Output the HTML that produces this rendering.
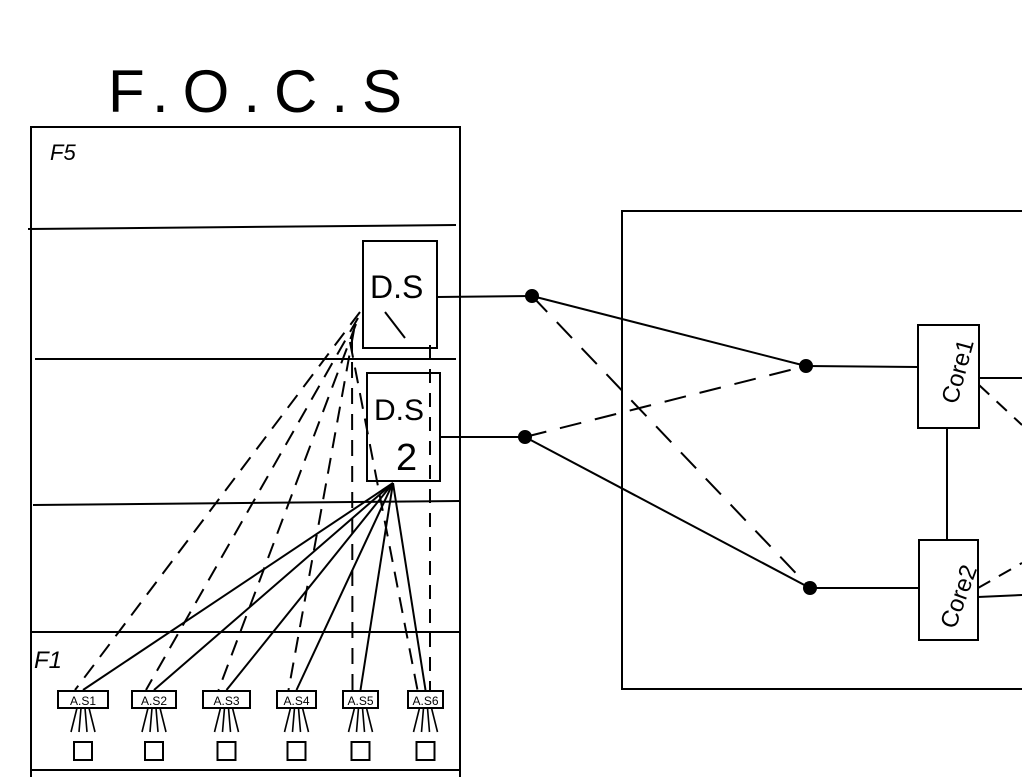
<!DOCTYPE html>
<html><head><meta charset="utf-8"><style>
html,body{margin:0;padding:0;background:#fff;}
svg{display:block;}
text{font-family:"Liberation Sans",sans-serif;fill:#000;}
</style></head><body>
<svg width="1022" height="777" viewBox="0 0 1022 777" stroke="#000" fill="none" stroke-width="2">
<text x="108" y="112" font-size="60" stroke="none" letter-spacing="14">F.O.C.S</text>
<rect x="31" y="127" width="429" height="660"/>
<line x1="28" y1="229" x2="456" y2="225"/>
<line x1="35" y1="359" x2="456" y2="359"/>
<line x1="33" y1="505" x2="460" y2="501"/>
<line x1="31" y1="632" x2="460" y2="632"/>
<line x1="31" y1="770" x2="460" y2="770"/>
<text x="50" y="160" font-size="22" stroke="none" style="font-style:italic">F5</text>
<text x="34" y="668" font-size="24" stroke="none" style="font-style:italic">F1</text>
<g>
<rect x="363" y="241" width="74" height="107"/>
<text x="370" y="298" font-size="32" stroke="none">D.S</text>
<line x1="385" y1="312" x2="405" y2="338"/>
</g>
<g>
<rect x="367" y="373" width="73" height="108"/>
<text x="374" y="420" font-size="30" stroke="none">D.S</text>
<text x="396" y="470" font-size="38" stroke="none">2</text>
</g>
<line x1="430" y1="345" x2="430" y2="690" stroke-dasharray="14,10"/>
<g id="as"></g>
<line x1="437" y1="297" x2="532" y2="296"/>
<line x1="440" y1="437" x2="525" y2="437"/>
<circle cx="532" cy="296" r="6" fill="#000"/>
<circle cx="525" cy="437" r="6" fill="#000"/>
<rect x="622" y="211" width="420" height="478"/>
<circle cx="806" cy="366" r="6" fill="#000"/>
<circle cx="810" cy="588" r="6" fill="#000"/>
<line x1="532" y1="296" x2="806" y2="366"/>
<line x1="532" y1="296" x2="810" y2="588" stroke-dasharray="22,14"/>
<line x1="525" y1="437" x2="806" y2="366" stroke-dasharray="22,14"/>
<line x1="525" y1="437" x2="810" y2="588"/>
<line x1="806" y1="366" x2="918" y2="367"/>
<line x1="810" y1="588" x2="919" y2="588"/>
<g>
<rect x="918" y="325" width="61" height="103"/>
<text x="0" y="0" font-size="24" stroke="none" transform="translate(957,405) rotate(-75)">Core1</text>
</g>
<g>
<rect x="919" y="540" width="59" height="100"/>
<text x="0" y="0" font-size="24" stroke="none" transform="translate(955,630) rotate(-70)">Core2</text>
</g>
<line x1="947" y1="428" x2="947" y2="540"/>
<line x1="979" y1="378" x2="1022" y2="378"/>
<line x1="979" y1="385" x2="1022" y2="425" stroke-dasharray="14,10"/>
<line x1="978" y1="597" x2="1022" y2="595"/>
<line x1="978" y1="588" x2="1022" y2="563" stroke-dasharray="14,10"/>
</svg>
<script>
const asLabels=["A.S1","A.S2","A.S3","A.S4","A.S5","A.S6"];
const asLeft=[58,132,203,277,343,408];
const asRight=[108,176,250,316,378,443];
const g=document.getElementById('as');
const NS="http://www.w3.org/2000/svg";
function mk(t,a){const e=document.createElementNS(NS,t);for(const k in a)e.setAttribute(k,a[k]);g.appendChild(e);return e;}
asLabels.forEach((lab,i)=>{
 const l=asLeft[i],r=asRight[i],c=(l+r)/2;
 const dash=mk('line',{x1:360-i*2,y1:312+i*6,x2:c-8,y2:690,'stroke-dasharray':'16,10'});
 
 
 const sol=mk('line',{x1:393,y1:483,x2:c,y2:690});
 
 
 const rc=mk('rect',{x:l,y:691,width:r-l,height:17,fill:'#fff'});
 
 
 const t=mk('text',{x:c,y:705,'font-size':12,'text-anchor':'middle',stroke:'none'});
 t.textContent=lab;
 
 
 [-12,-4,4,12].forEach(d=>{mk('line',{x1:c+d/2,y1:708,x2:c+d,y2:732,'stroke-width':1.6});});
 const sq=mk('rect',{x:c-9,y:742,width:18,height:18});
 
 
});
</script>
</body></html>
